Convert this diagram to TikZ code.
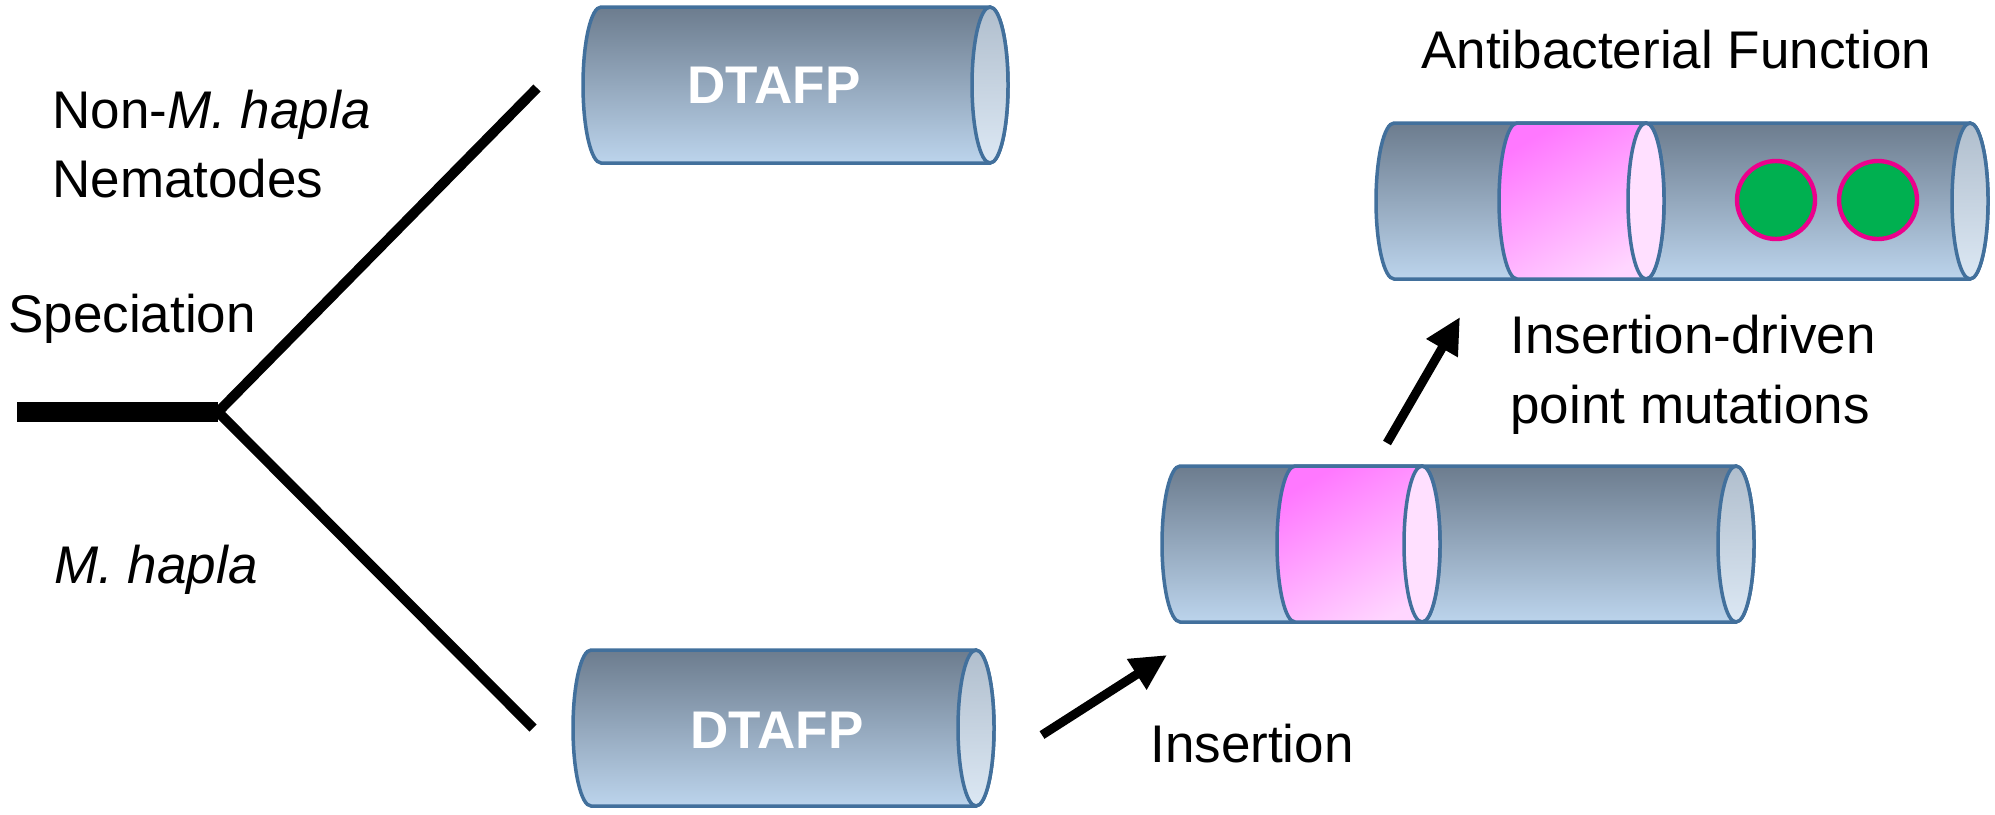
\documentclass[tikz,border=0pt]{standalone}
\usepackage{fontspec}
\setmainfont{Liberation Sans}
\usetikzlibrary{arrows.meta}

\definecolor{tubetop}{RGB}{108,124,142}
\definecolor{tubebot}{RGB}{188,212,236}
\definecolor{tubeline}{RGB}{66,112,156}
\definecolor{endtop}{RGB}{176,190,205}
\definecolor{endbot}{RGB}{220,232,244}
\definecolor{bandtop}{RGB}{255,120,255}
\definecolor{bandbot}{RGB}{255,214,255}
\definecolor{bandend}{RGB}{255,224,255}
\definecolor{sitegreen}{RGB}{0,176,80}

\tikzset{
	tube/.style={draw=tubeline, line width=1.75pt, top color=tubetop, bottom color=tubebot},
	tubeend/.style={draw=tubeline, line width=1.75pt, top color=endtop, bottom color=endbot},
	band/.style={draw=tubeline, line width=1.75pt, top color=bandtop, bottom color=bandbot, shading angle=30},
	bandrim/.style={draw=tubeline, line width=1.75pt, fill=bandend},
	endr/.style={x radius=9pt, y radius=39pt},
	site/.style={draw=magenta, line width=2.2pt, fill=sitegreen},
	txt/.style={font=\fontsize{26.5}{32}\selectfont, inner sep=0pt, anchor=base west},
	tubetext/.style={font=\fontsize{26.5}{32}\selectfont\bfseries, text=white, inner sep=0pt, anchor=base},
	stem/.style={line width=10pt},
	branch/.style={line width=5pt},
	pointer/.style={line width=4.5pt, -{Triangle[length=18pt, width=17pt]}}
}

\begin{document}
\begin{tikzpicture}[x=0.5pt, y=-0.5pt]

	\useasboundingbox (0,0) rectangle (1995,814);

	% speciation tree
	\coordinate (root) at (17,412);
	\coordinate (split) at (218,412);
	\coordinate (upend) at (537,88);
	\coordinate (lowend) at (533,728);
	\draw[branch] (split) -- (upend);
	\draw[branch] (split) -- (lowend);
	\draw[stem] (root) -- (split);

	\node[txt] (nonmh) at (52,128) {Non-\textit{M. hapla}};
	\node[txt] (nema) at (52,197) {Nematodes};
	\node[txt] (spec) at (8,332) {Speciation};
	\node[txt] (mh) at (54,583) {\textit{M. hapla}};

	% DTAFP, non-M. hapla
	\draw[tube] (601,7) -- (990,7) arc[endr, start angle=90, end angle=-90] -- (601,163) arc[endr, start angle=270, end angle=90] -- cycle;
	\draw[tubeend] (990,85) ellipse [endr];
	\node[tubetext] (dtafpA) at (774,103) {DTAFP};

	% DTAFP, M. hapla
	\draw[tube] (591,650) -- (976,650) arc[endr, start angle=90, end angle=-90] -- (591,806) arc[endr, start angle=270, end angle=90] -- cycle;
	\draw[tubeend] (976,728) ellipse [endr];
	\node[tubetext] (dtafpB) at (777,748) {DTAFP};

	\coordinate (a1s) at (1042,735);
	\coordinate (a1e) at (1167,655);
	\draw[pointer] (a1s) -- (a1e);
	\node[txt] (ins) at (1150,762) {Insertion};

	% after insertion
	\draw[tube] (1180,466) -- (1736,466) arc[endr, start angle=90, end angle=-90] -- (1180,622) arc[endr, start angle=270, end angle=90] -- cycle;
	\draw[tubeend] (1736,544) ellipse [endr];
	\draw[band] (1295,466) -- (1422,466) arc[endr, start angle=90, end angle=-90] -- (1295,622) arc[endr, start angle=270, end angle=90] -- cycle;
	\draw[bandrim] (1422,544) ellipse [endr];

	\coordinate (a2s) at (1387,443);
	\coordinate (a2e) at (1460,317);
	\draw[pointer] (a2s) -- (a2e);
	\node[txt] (insdrv) at (1510,353) {Insertion-driven};
	\node[txt] (ptmut) at (1510,423) {point mutations};

	% point mutations
	\draw[tube] (1394,123) -- (1970,123) arc[endr, start angle=90, end angle=-90] -- (1394,279) arc[endr, start angle=270, end angle=90] -- cycle;
	\draw[tubeend] (1970,201) ellipse [endr];
	\draw[band] (1517,123) -- (1646,123) arc[endr, start angle=90, end angle=-90] -- (1517,279) arc[endr, start angle=270, end angle=90] -- cycle;
	\draw[bandrim] (1646,201) ellipse [endr];
	\draw[site] (1776,200) circle [radius=19.5pt];
	\draw[site] (1878,200) circle [radius=19.5pt];
	\node[txt] (antib) at (1421,68) {Antibacterial Function};

\end{tikzpicture}
\end{document}
